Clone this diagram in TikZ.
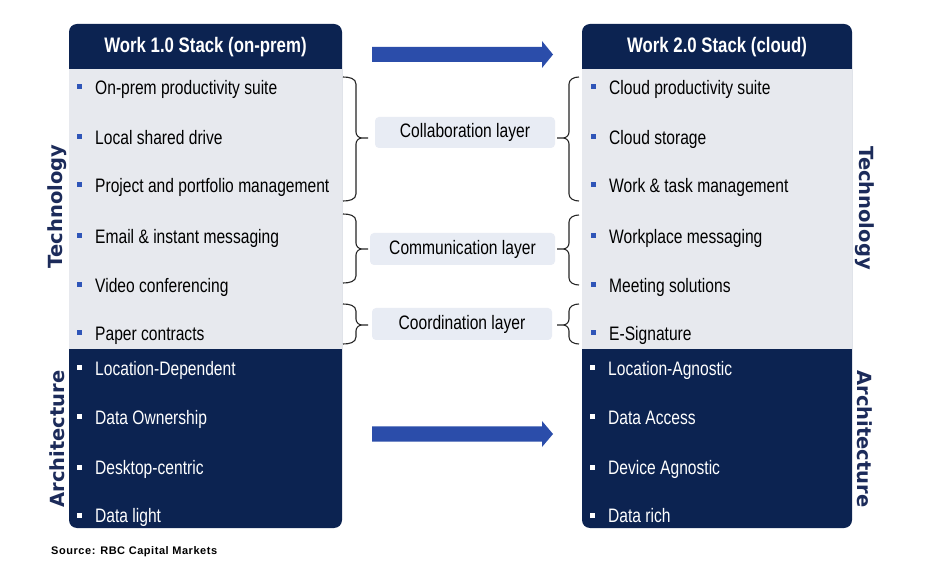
\documentclass[tikz,border=0pt]{standalone}
\usepackage{fontspec}
\setmainfont[FakeStretch=0.8]{Liberation Sans}
\newfontfamily\sidefont{DejaVu Sans}
\newfontfamily\srcfont[LetterSpace=5]{Liberation Sans}
\definecolor{navy}{HTML}{0C2351}
\definecolor{bodygray}{HTML}{E7E9EE}
\definecolor{layerfill}{HTML}{E8ECF4}
\definecolor{arrowblue}{HTML}{2B4DAA}
\definecolor{bulletblue}{HTML}{2F55B8}
\definecolor{sidecol}{HTML}{1C2B5A}
\newcommand\closebr[3]{%
  \draw[bracestyle] (343,#1) to[out=0,in=90] (356,#1+7) -- (356,#2-6) to[out=-90,in=180] (362,#2) -- (368,#2)
    (362,#2) to[out=180,in=90] (356,#2+6) -- (356,#3-7) to[out=-90,in=0] (343,#3);}
\newcommand\openbr[3]{%
  \draw[bracestyle] (579,#1) to[out=180,in=90] (569,#1+7) -- (569,#2-6) to[out=-90,in=0] (563,#2) -- (557,#2)
    (563,#2) to[out=0,in=90] (569,#2+6) -- (569,#3-7) to[out=-90,in=180] (579,#3);}
\begin{document}
\begin{tikzpicture}[x=1pt,y=-1pt,
  item/.style={anchor=base west, inner sep=0pt, font=\fontsize{19.5}{22}\selectfont, text=black},
  ditem/.style={item, text=white},
  head/.style={inner sep=0pt, text=white, font=\bfseries\fontsize{21}{24}\selectfont},
  layer/.style={fill=layerfill, rounded corners=4pt, inner sep=0pt, minimum height=31pt, font=\fontsize{19.5}{22}\selectfont},
  side/.style={inner sep=0pt, text=sidecol, font=\sidefont\bfseries\fontsize{19.5}{22}\selectfont},
  bracestyle/.style={draw=black!85, line width=1.1pt},
  bigarrow/.style={fill=arrowblue}]
\useasboundingbox (0,0) rectangle (927,577);
\fill[white] (0,0) rectangle (927,577);

% panels
\fill[navy, rounded corners=8pt] (69,24) rectangle (342,528);
\fill[bodygray] (69,69) rectangle (342,349);
\fill[navy, rounded corners=8pt] (582,24) rectangle (852,528);
\fill[bodygray] (582,69) rectangle (852,349);

\node[head] (h1) at (205.5,47.5) {Work 1.0 Stack (on-prem)};
\node[head] (h2) at (717,47.5) {Work 2.0 Stack (cloud)};

% left light items
\foreach \y/\t/\n in {87/On-prem productivity suite/l1, 137/Local shared drive/l2, 185/Project and portfolio management/l3, 236/Email \& instant messaging/l4, 285/Video conferencing/l5, 333/Paper contracts/l6}{
  \fill[bulletblue] (77,\y-2.5) rectangle (81.5,\y+2.5);
  \node[item] (\n) at (95,\y+7.5) {\t};
}
\foreach \y/\t/\n in {368/Location-Dependent/ld1, 417/Data Ownership/ld2, 467/Desktop-centric/ld3, 515/Data light/ld4}{
  \fill[white] (77,\y-2.5) rectangle (81.5,\y+2.5);
  \node[ditem] (\n) at (95,\y+7.5) {\t};
}
% right items
\foreach \y/\t/\n in {87/Cloud productivity suite/r1, 137/Cloud storage/r2, 185/Work \& task management/r3, 236/Workplace messaging/r4, 285/Meeting solutions/r5, 333/E-Signature/r6}{
  \fill[bulletblue] (591,\y-2.5) rectangle (595.5,\y+2.5);
  \node[item] (\n) at (609,\y+7.5) {\t};
}
\foreach \y/\t/\n in {368/Location-Agnostic/rd1, 417/Data Access/rd2, 467/Device Agnostic/rd3, 515/Data rich/rd4}{
  \fill[white] (590,\y-2.5) rectangle (594.5,\y+2.5);
  \node[ditem] (\n) at (608,\y+7.5) {\t};
}

% layer labels
\node[layer, minimum width=180pt] (coll) at (465,132.5) {Collaboration layer};
\node[layer, minimum width=185pt, minimum height=32pt] (comm) at (462.5,249) {Communication layer};
\node[layer, minimum width=180pt, minimum height=32pt] (coord) at (462,324) {Coordination layer};

% braces
\closebr{77}{138}{201}
\closebr{214}{249}{283}
\closebr{304}{325}{344}
\openbr{77}{138}{201}
\openbr{215}{249}{285}
\openbr{304}{325}{344}

% arrows
\fill[bigarrow] (372,47) -- (542,47) -- (542,41) -- (553,54.5) -- (542,68) -- (542,62) -- (372,62) -- cycle;
\fill[bigarrow] (372,426.5) -- (542,426.5) -- (542,421) -- (553,434) -- (542,447) -- (542,441.5) -- (372,441.5) -- cycle;

% side labels
\node[side, rotate=90] (tl) at (57,206.5) {Technology};
\node[side, rotate=90] (al) at (57,439) {Architecture};
\node[side, rotate=-90] (tr) at (865,208) {Technology};
\node[side, rotate=-90] (ar) at (865,439) {Architecture};

% source
\node[anchor=base west, inner sep=0pt, font=\srcfont\bfseries\fontsize{11}{13}\selectfont] (src) at (51,554) {Source: RBC Capital Markets};
\end{tikzpicture}
\end{document}
